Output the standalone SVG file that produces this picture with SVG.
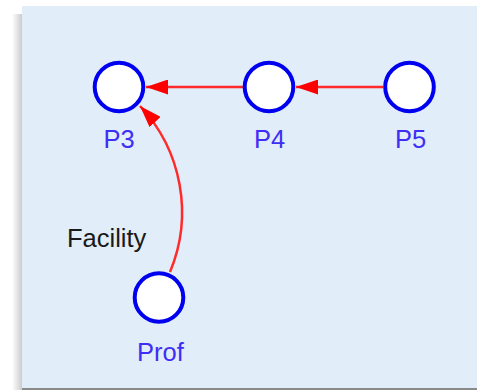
<svg xmlns="http://www.w3.org/2000/svg" width="477" height="390" viewBox="0 0 477 390">
<style>
.node{fill:#ffffff;stroke:#0000f0;stroke-width:4}
.lbl{font-family:"Liberation Sans",Arial,sans-serif;font-size:25.5px;fill:#3f2ef5;text-anchor:middle}
.elbl{font-family:"Liberation Sans",Arial,sans-serif;font-size:25.5px;fill:#1a1a1a}
.edge{fill:none;stroke:#ff2a2a;stroke-width:2.5}
</style>
<defs>
<linearGradient id="sh" x1="0" y1="0" x2="1" y2="0">
<stop offset="0" stop-color="#ffffff"/>
<stop offset="1" stop-color="#cccccc"/>
</linearGradient>
<marker id="arr" viewBox="0 0 22 15" refX="22" refY="7.5" markerWidth="22" markerHeight="15" markerUnits="userSpaceOnUse" orient="auto">
<path d="M0,0 L22,7.5 L0,15 z" fill="#ff0000"/>
</marker>
</defs>
<rect x="0" y="0" width="477" height="390" fill="#ffffff"/>
<rect x="12" y="14" width="10" height="376" fill="url(#sh)"/>
<rect x="22" y="387" width="455" height="3" fill="#8a8a8a"/>
<rect x="22" y="6" width="455" height="382" fill="#e1edf9"/>
<g id="connectors">
<path class="edge" d="M243,87 L146,87" marker-end="url(#arr)"/>
<path class="edge" d="M383,87 L296,87" marker-end="url(#arr)"/>
<path class="edge" d="M170,272 A155,155 0 0 0 140,106" marker-end="url(#arr)" stroke-width="2"/>
</g>
<g id="P3"><circle class="node" cx="119" cy="87" r="24.3"/><text class="lbl" x="119" y="147.5">P3</text></g>
<g id="P4"><circle class="node" cx="269" cy="87" r="24.3"/><text class="lbl" x="269.5" y="147.5">P4</text></g>
<g id="P5"><circle class="node" cx="409.5" cy="87" r="24.3"/><text class="lbl" x="410.5" y="147.5">P5</text></g>
<g id="Prof"><circle class="node" cx="159" cy="297.5" r="24.3"/><text class="lbl" x="160.5" y="360.5">Prof</text></g>
<g id="edge-label"><text class="elbl" x="67" y="247.3">Facility</text></g>
</svg>
